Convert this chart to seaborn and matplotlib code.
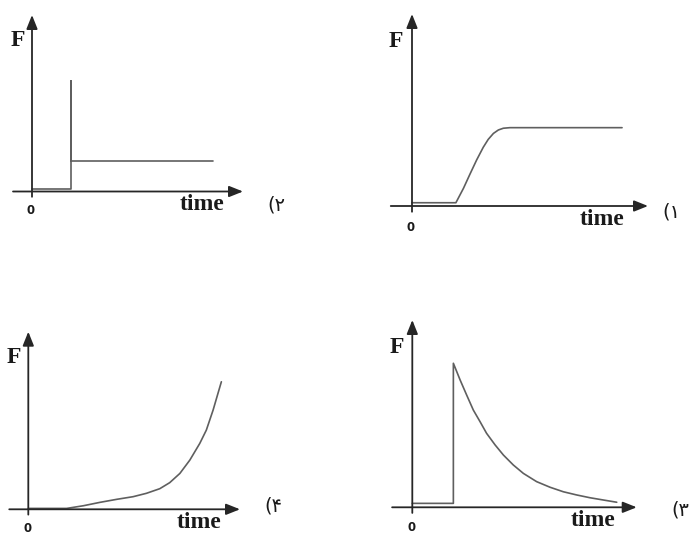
import matplotlib
matplotlib.use("Agg")
import matplotlib.pyplot as plt
import seaborn as sns
import pandas as pd

# === Curves (time and F in axis units, arrow tip = 10) ===
# panel (1), top right: smooth rise to a plateau
t_rise = [0.0, 1.86, 2.18, 2.46, 2.74, 3.02, 3.23, 3.45, 3.66, 3.87, 4.15, 8.9]
f_rise = [0.17, 0.17, 0.92, 1.67, 2.40, 3.06, 3.47, 3.78, 3.96, 4.05, 4.08, 4.08]

# panel (2), top left: spike then constant
t_spike = [0.0, 1.85, 1.85, 1.85, 8.6]
f_spike = [0.12, 0.12, 6.25, 1.7, 1.7]

# panel (3), bottom right: jump then decay
t_decay = [0.0, 1.83, 1.83, 2.13, 2.42, 2.72, 3.02, 3.31, 3.69, 4.06, 4.50, 4.95,
           5.54, 6.14, 6.73, 7.32, 7.92, 8.51, 9.11]
f_decay = [0.21, 0.21, 7.69, 6.80, 6.00, 5.19, 4.57, 3.95, 3.33, 2.79, 2.26, 1.81,
           1.37, 1.07, 0.83, 0.66, 0.51, 0.39, 0.27]

# panel (4), bottom left: slow then fast growth
t_grow = [0.0, 1.81, 2.60, 3.38, 4.17, 4.95, 5.58, 6.21, 6.68, 7.16, 7.63, 8.10,
          8.41, 8.73, 8.96, 9.12]
f_grow = [0.05, 0.05, 0.20, 0.39, 0.56, 0.71, 0.90, 1.16, 1.50, 2.02, 2.77, 3.71,
          4.46, 5.59, 6.53, 7.18]

labels = ["(۱", "(۲", "(۳", "(۴"]

sns.set_theme(style="white")
plt.rcParams["font.family"] = ["DejaVu Sans"]

W, H = 690, 536
fig = plt.figure(figsize=(W / 100, H / 100), dpi=100)

# (origin x, origin y, x arrow tip, y arrow tip) in pixels, label position in axis units
panels = [
    (t_rise, f_rise, (412, 206, 648, 14), (11.0, -0.3), labels[0]),
    (t_spike, f_spike, (32, 191.5, 243, 15), (11.6, -0.75), labels[1]),
    (t_decay, f_decay, (412.3, 507.3, 636.7, 320), (11.95, -0.15), labels[2]),
    (t_grow, f_grow, (28.3, 509.3, 240, 331.7), (11.6, 0.2), labels[3]),
]

axis_color = "#262626"
curve_color = "#5f5f5f"

for t, f, (ox, oy, xt, yt), (lx, ly), lab in panels:
    ax = fig.add_axes([ox / W, (H - oy) / H, (xt - ox) / W, (oy - yt) / H])
    ax.set_xlim(0, 10)
    ax.set_ylim(0, 10)
    ax.axis("off")

    df = pd.DataFrame({"time": t, "F": f})
    sns.lineplot(data=df, x="time", y="F", ax=ax, sort=False, estimator=None,
                 color=curve_color, lw=1.2)
    for ln in ax.lines:
        ln.set_clip_on(False)

    arrow = dict(arrowstyle="-|>,head_length=0.7,head_width=0.28", color=axis_color,
                 lw=1.3, mutation_scale=12, shrinkA=0, shrinkB=0)
    ax.annotate("", xy=(10, 0), xytext=(-0.9, 0), arrowprops=arrow, annotation_clip=False)
    ax.annotate("", xy=(0, 10), xytext=(0, -0.3), arrowprops=arrow, annotation_clip=False)

    ax.text(-0.68, 8.55, "F", ha="center", va="center", fontsize=17, fontweight="bold",
            family="Liberation Serif", color="#1a1a1a", clip_on=False)
    ax.text(8.05, -0.72, "time", ha="center", va="center", fontsize=17, fontweight="bold",
            family="Liberation Serif", color="#1a1a1a", clip_on=False)
    ax.text(-0.05, -1.1, "0", ha="center", va="center", fontsize=8.5, fontweight="bold",
            color="#1a1a1a", clip_on=False)
    ax.text(lx, ly, lab, ha="center", va="center", fontsize=14,
            family=["DejaVu Sans", "Noto Sans"], color="#1a1a1a", clip_on=False)

fig.savefig("out.png", dpi=100, facecolor="white")
